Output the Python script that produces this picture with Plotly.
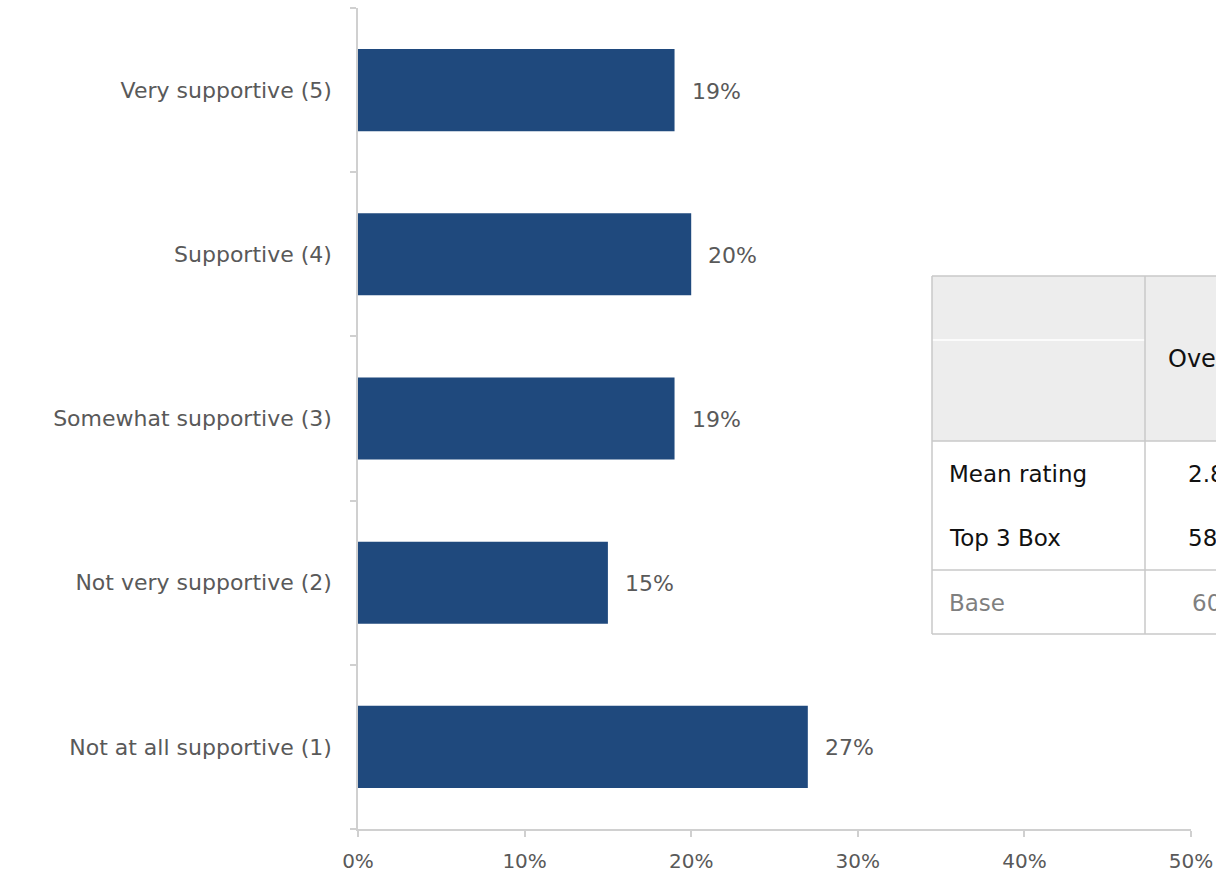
import plotly.graph_objects as go

categories = ["Not at all supportive (1)", "Not very supportive (2)", "Somewhat supportive (3)",
              "Supportive (4)", "Very supportive (5)"]
values = [0.27, 0.15, 0.19, 0.20, 0.19]
x_ticks = [0, 0.1, 0.2, 0.3, 0.4, 0.5]
x_tick_labels = ["0%", "10%", "20%", "30%", "40%", "50%"]

table_row_labels = ["Mean rating", "Top 3 Box", "Base"]
table_values = ["2.8", "58%", "600"]
table_header = "Overall"

FONT = "Century Gothic, URW Gothic, DejaVu Sans, sans-serif"
BAR = "#1F497D"
GREY = "#595959"
LINE = "#D0D0D0"

fig = go.Figure()
fig.add_trace(go.Bar(
    x=values, y=categories, orientation="h",
    marker=dict(color=BAR, line=dict(width=0)),
    hoverinfo="skip", showlegend=False,
))

W, H = 1216, 873
L, R, T, B = 358, 25, 8, 44
pw, ph = W - L - R, H - T - B

def px(x):
    return (x - L) / pw

def py(y):
    return (H - B - y) / ph

for c, v in zip(categories, values):
    fig.add_annotation(x=v, y=c, xref="x", yref="y", text=f"{v:.0%}", showarrow=False,
                       xanchor="left", xshift=15, yshift=-1,
                       font=dict(family=FONT, size=22, color=GREY))

# table overlay (partially cut at right edge)
shapes = []
tl, tr, tt, tb = 932, 1400, 276, 634
hb, cd, rd = 441, 1145, 570
shapes.append(dict(type="rect", xref="paper", yref="paper", x0=px(tl), x1=px(tr), y0=py(hb), y1=py(tt),
                   fillcolor="#EDEDED", line=dict(width=0), layer="below"))
shapes.append(dict(type="line", xref="paper", yref="paper", x0=px(tl), x1=px(cd), y0=py(340), y1=py(340),
                   line=dict(color="#FFFFFF", width=1.5)))
for y in [tt, hb, rd, tb]:
    shapes.append(dict(type="line", xref="paper", yref="paper", x0=px(tl), x1=px(tr), y0=py(y), y1=py(y),
                       line=dict(color="#C8C8C8", width=1.5)))
for x in [tl, cd]:
    shapes.append(dict(type="line", xref="paper", yref="paper", x0=px(x), x1=px(x), y0=py(tb), y1=py(tt),
                       line=dict(color="#C8C8C8", width=1.5)))
fig.update_layout(shapes=shapes)

fig.add_annotation(x=px(1166), y=py(359), xref="paper", yref="paper", text=table_header, showarrow=False,
                   xanchor="left", yanchor="middle", font=dict(family=FONT, size=24, color="#111111"))
row_y = [474, 538, 603]
row_colors = ["#111111", "#111111", "#7F7F7F"]
val_x = [1186, 1186, 1190]
for lab, val, yy, col, vx in zip(table_row_labels, table_values, row_y, row_colors, val_x):
    fig.add_annotation(x=px(947), y=py(yy), xref="paper", yref="paper", text=lab, showarrow=False,
                       xanchor="left", yanchor="middle", font=dict(family=FONT, size=23, color=col))
    fig.add_annotation(x=px(vx), y=py(yy), xref="paper", yref="paper", text=val, showarrow=False,
                       xanchor="left", yanchor="middle", font=dict(family=FONT, size=23, color=col))

fig.update_layout(
    width=W, height=H,
    margin=dict(l=L, r=R, t=T, b=B, autoexpand=False),
    paper_bgcolor="white", plot_bgcolor="white",
    bargap=0.5,
    font=dict(family=FONT, color=GREY),
    xaxis=dict(range=[0, 0.5], tickvals=x_ticks, ticktext=x_tick_labels, showgrid=False, zeroline=False,
               showline=True, linecolor=LINE, linewidth=1.5, ticks="outside", ticklen=6, tickcolor=LINE,
               tickwidth=1.5, ticklabelstandoff=7,
               tickfont=dict(family=FONT, size=20, color=GREY), fixedrange=True),
    yaxis=dict(categoryorder="array", categoryarray=categories, showgrid=False, zeroline=False,
               showline=True, linecolor=LINE, linewidth=1.5, ticks="outside", ticklen=6, tickcolor=LINE,
               tickwidth=1.5, tickson="boundaries", ticklabelstandoff=20,
               tickfont=dict(family=FONT, size=22, color=GREY), fixedrange=True),
)

fig.write_html("out.html", config={"displayModeBar": False},
               post_script="document.body.style.margin='0';document.body.style.overflow='hidden';")
